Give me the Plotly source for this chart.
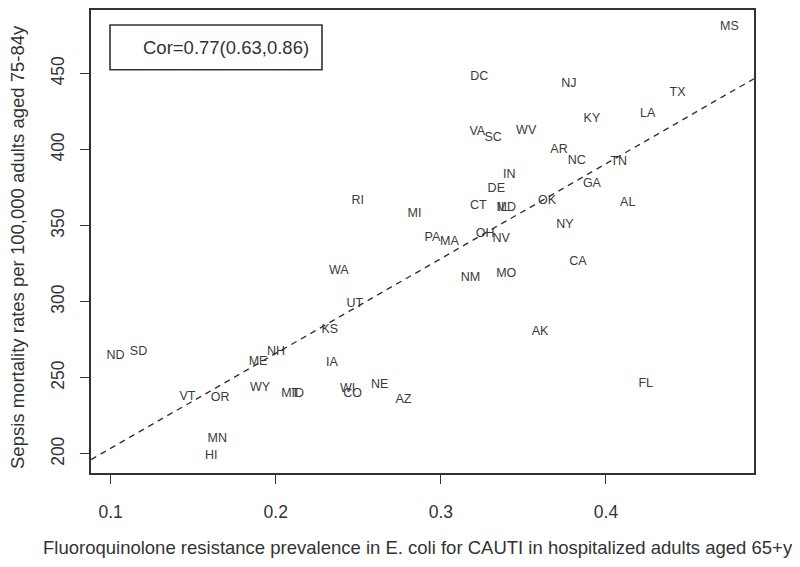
import numpy as np
import plotly.graph_objects as go

states = ["MS","DC","NJ","TX","LA","KY","VA","SC","WV","AR","NC","TN","IN","DE","GA","OK","AL","CT",
          "MD","IL","MI","RI","PA","MA","OH","NV","NY","CA","NM","MO","WA","UT","KS","AK","ND","SD",
          "NH","ME","IA","VT","OR","WY","MT","ID","WI","CO","NE","AZ","FL","MN","HI"]
fq_resistance = [0.4748,0.3233,0.3776,0.4434,0.4253,0.3915,0.3221,0.3317,0.3517,0.3716,0.3824,0.4078,
                 0.3414,0.3336,0.3915,0.3643,0.4132,0.3227,0.3396,0.3375,0.2841,0.2497,0.2949,0.3052,
                 0.3269,0.3366,0.3752,0.3830,0.3179,0.3396,0.2382,0.2479,0.2328,0.3601,0.1030,0.1169,
                 0.2002,0.1893,0.2340,0.1465,0.1664,0.1905,0.2088,0.2134,0.2436,0.2466,0.2629,0.2774,
                 0.4241,0.1646,0.1610]
sepsis_rate = [480.5,448.0,443.5,437.0,423.4,420.1,411.7,407.8,412.3,400.0,392.9,392.2,383.1,374.0,
               377.3,366.2,364.9,363.0,361.5,362.0,357.8,366.2,342.2,339.6,344.8,341.6,350.6,326.0,
               315.6,318.2,320.1,298.7,281.8,279.9,264.3,266.9,266.9,260.4,259.7,237.7,237.0,243.5,
               239.6,239.6,242.9,239.6,245.5,235.7,246.1,209.7,198.7]
cor_text = "Cor=0.77(0.63,0.86)"
x_ticks = [0.1, 0.2, 0.3, 0.4]
y_ticks = [200, 250, 300, 350, 400, 450]

x = np.array(fq_resistance)
y = np.array(sepsis_rate)

def r_range(v):
    lo, hi = float(v.min()), float(v.max())
    pad = (hi - lo) * 0.04
    return [lo - pad, hi + pad]

xr = r_range(x)
yr = r_range(y)
slope, intercept = np.polyfit(x, y, 1)

FONT = "Liberation Sans, Arial"
INK = "#333333"

fig = go.Figure()
fig.add_trace(go.Scatter(
    x=x, y=y, mode="text", text=states,
    textfont=dict(family=FONT, size=12.5, color="#3a3a3a"),
    textposition="middle center", hoverinfo="text", showlegend=False))
fig.add_trace(go.Scatter(
    x=xr, y=[intercept + slope * v for v in xr], mode="lines",
    line=dict(color=INK, width=1.4, dash="6px,5px"),
    hoverinfo="skip", showlegend=False))

axis_common = dict(showline=True, mirror=True, linecolor=INK, linewidth=1.6,
                   ticks="outside", ticklen=9, tickwidth=1.4, tickcolor=INK,
                   showgrid=False, zeroline=False,
                   tickfont=dict(family=FONT, size=17.5, color=INK))
fig.update_xaxes(range=xr, tickvals=x_ticks, ticktext=[str(t) for t in x_ticks],
                 ticklabelstandoff=13, **axis_common)
fig.update_yaxes(range=yr, tickvals=y_ticks, ticktext=[str(t) for t in y_ticks],
                 tickangle=-90, ticklabelstandoff=9, **axis_common)

# page shows the figure offset by 8px (body margin); work in reference pixels
OFF = 8
W, H = 800 - OFF, 567 - OFF
L, T = 91 - OFF, 0
R = 800 - 754
B = 567 - 473
pw, ph = W - L - R, H - T - B

def px_to_paper(px, py):
    fx, fy = px - OFF, py - OFF
    return (fx - L) / pw, (H - B - fy) / ph

x0, y0 = px_to_paper(110, 23)
x1, y1 = px_to_paper(322, 68)
fig.add_shape(type="rect", xref="paper", yref="paper", x0=x0, y0=y1, x1=x1, y1=y0,
              line=dict(color=INK, width=1.6), fillcolor="rgba(0,0,0,0)")
tx, ty = px_to_paper(226, 46)
ax_x, ax_y = px_to_paper(418, 548)
ay_x, ay_y = px_to_paper(18, 246)
fig.update_layout(
    width=W, height=H, margin=dict(l=L, r=R, t=T, b=B),
    plot_bgcolor="white", paper_bgcolor="white",
    annotations=[
        dict(text=cor_text, xref="paper", yref="paper", x=tx, y=ty, showarrow=False,
             xanchor="center", yanchor="middle",
             font=dict(family=FONT, size=18.5, color=INK)),
        dict(text="Fluoroquinolone resistance prevalence in E. coli for CAUTI in hospitalized adults aged 65+y",
             xref="paper", yref="paper", x=ax_x, y=ax_y, showarrow=False,
             xanchor="center", yanchor="middle",
             font=dict(family=FONT, size=18.5, color=INK)),
        dict(text="Sepsis mortality rates per 100,000 adults aged 75-84y",
             xref="paper", yref="paper", x=ay_x, y=ay_y, showarrow=False, textangle=-90,
             xanchor="center", yanchor="middle",
             font=dict(family=FONT, size=18.5, color=INK)),
    ],
)
fig.write_html("out.html")
